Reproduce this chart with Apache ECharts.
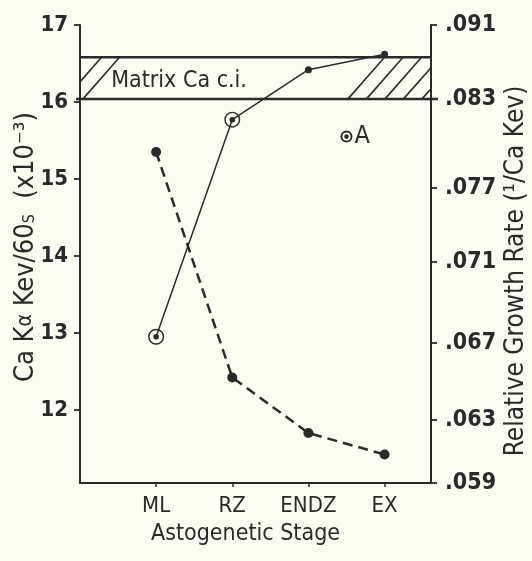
<!DOCTYPE html>
<html>
<head>
<meta charset="utf-8">
<script src="https://cdn.jsdelivr.net/npm/echarts@6/dist/echarts.min.js"></script>
<style>
  html, body { margin: 0; padding: 0; background: #fcfcf0; }
  #main { width: 532px; height: 561px; }
</style>
</head>
<body>
<div id="main"></div>
<script>
// astogenetic stages along the bottom
var stages = ['ML', 'RZ', 'ENDZ', 'EX'];
var stagePos = [1, 2, 3, 4];
// Ca K-alpha (Kev/60s x10^-3), solid line
var caCounts = [12.95, 15.77, 16.42, 16.62];
// relative growth rate, dashed line (read against the left scale)
var growthRate = [15.35, 12.42, 11.70, 11.42];
// lone point "A"
var pointA = [3.5, 15.55];
// matrix Ca confidence interval
var matrixBand = [16.04, 16.58];
var leftTicks = [12, 13, 14, 15, 16, 17];
// right hand scale is not linear, so keep where each label sits on the left scale
var rightTickLabels = ['.091', '.083', '.077', '.071', '.067', '.063', '.059'];
var rightTickAt = [17.0, 16.04, 14.88, 13.92, 12.87, 11.87, 11.05];

var ink = '#2a2a2a';
var fam = "'Liberation Sans Narrow', 'DejaVu Sans Condensed', 'Liberation Sans', sans-serif";

// ring with a dot inside (open circle marker)
var ringDot = 'path://M10,0 A10,10 0 1,1 10,20 A10,10 0 1,1 10,0 Z ' +
  'M10,1.8 A8.2,8.2 0 1,0 10,18.2 A8.2,8.2 0 1,0 10,1.8 Z ' +
  'M10,6.5 A3.5,3.5 0 1,1 10,13.5 A3.5,3.5 0 1,1 10,6.5 Z';
var ringDotHeavy = 'path://M10,0 A10,10 0 1,1 10,20 A10,10 0 1,1 10,0 Z ' +
  'M10,3.2 A6.8,6.8 0 1,0 10,16.8 A6.8,6.8 0 1,0 10,3.2 Z ' +
  'M10,6.2 A3.8,3.8 0 1,1 10,13.8 A3.8,3.8 0 1,1 10,6.2 Z';

var chart = echarts.init(document.getElementById('main'));

// hatched band with its label
function renderBand(params, api) {
  var cs = params.coordSys;
  var x0 = cs.x, x1 = cs.x + cs.width;
  var yTop = api.coord([0, matrixBand[1]])[1];
  var yBot = api.coord([0, matrixBand[0]])[1];
  var h = yBot - yTop;
  var slope = 0.88;
  var kids = [];
  kids.push({ type: 'line', shape: { x1: x0, y1: yTop, x2: x1, y2: yTop },
    style: { stroke: ink, lineWidth: 2.5 } });
  kids.push({ type: 'line', shape: { x1: x0 - 4, y1: yBot, x2: x1 + 7, y2: yBot },
    style: { stroke: ink, lineWidth: 2.5 } });

  var starts = [];
  var k;
  for (k = 0; k < 2; k++) starts.push(x0 - 15 + k * 18);
  var rx = api.coord([3.52, 0])[0];
  for (k = 0; k < 5; k++) starts.push(rx + k * 18.5);
  starts.forEach(function (xb) {
    var xa = xb, ya = yBot, xt = xb + h * slope, yt = yTop;
    if (xa < x0) { ya = yBot - (x0 - xb) / slope; xa = x0; }
    if (xt > x1) { yt = yBot - (x1 - xb) / slope; xt = x1; }
    kids.push({ type: 'line', shape: { x1: xa, y1: ya, x2: xt, y2: yt },
      style: { stroke: ink, lineWidth: 1.6 } });
  });

  kids.push({ type: 'text', x: api.coord([0.41, 0])[0], y: (yTop + yBot) / 2 + 3,
    style: { text: 'Matrix Ca c.i.', fill: ink, font: '23px ' + fam,
      align: 'left', verticalAlign: 'middle' } });
  return { type: 'group', children: kids };
}

var option = {
  backgroundColor: '#fcfcf0',
  animation: false,
  grid: { left: 80, right: 101, top: 25, bottom: 78, outerBoundsMode: 'none' },
  xAxis: {
    type: 'value',
    min: 0,
    max: 4.61,
    name: 'Astogenetic Stage',
    nameLocation: 'middle',
    nameGap: 40,
    nameTextStyle: { fontFamily: fam, fontSize: 23, color: ink, padding: [0, 20, 0, 0] },
    axisLine: { onZero: false, lineStyle: { color: ink, width: 2 } },
    axisTick: { customValues: stagePos, length: 4, lineStyle: { color: ink, width: 1.5 } },
    axisLabel: {
      customValues: stagePos, margin: 12, fontFamily: fam, fontSize: 22, color: ink,
      formatter: function (v) { return stages[stagePos.indexOf(v)]; }
    },
    splitLine: { show: false }
  },
  yAxis: [{
    type: 'value',
    min: 11.05,
    max: 17,
    position: 'left',
    name: 'Ca K{a|α} Kev/60{sub|S}  (x10⁻³)',
    nameLocation: 'middle',
    nameRotate: 90,
    nameGap: 41,
    nameMoveOverlap: false,
    nameTextStyle: {
      fontFamily: fam, fontSize: 27, color: ink, padding: [0, 0, 0, 14],
      rich: {
        a: { fontFamily: fam, fontSize: 21, color: ink },
        sub: { fontFamily: fam, fontSize: 16, color: ink, padding: [8, 0, 0, 0] }
      }
    },
    axisLine: { show: true, onZero: false, lineStyle: { color: ink, width: 2 } },
    axisTick: { show: true, customValues: leftTicks, length: 6, lineStyle: { color: ink, width: 1.8 } },
    axisLabel: { customValues: leftTicks, margin: 12, fontFamily: fam, fontSize: 22,
      fontWeight: 'bold', color: ink },
    splitLine: { show: false }
  }, {
    type: 'value',
    min: 11.05,
    max: 17,
    position: 'right',
    name: 'Relative Growth Rate (¹/Ca Kev)',
    nameLocation: 'middle',
    nameRotate: 90,
    nameGap: 72,
    nameMoveOverlap: false,
    nameTextStyle: { fontFamily: fam, fontSize: 26, color: ink, padding: [0, 34, 0, 0] },
    axisLine: { show: true, onZero: false, lineStyle: { color: ink, width: 2 } },
    axisTick: { show: true, customValues: rightTickAt, length: 6, lineStyle: { color: ink, width: 1.8 } },
    axisLabel: {
      customValues: rightTickAt, margin: 14, fontFamily: fam, fontSize: 23,
      fontWeight: 'bold', color: ink, padding: [0, 0, 9, 0],
      formatter: function (v) { return rightTickLabels[rightTickAt.indexOf(v)]; }
    },
    splitLine: { show: false }
  }],
  series: [{
    type: 'custom',
    renderItem: renderBand,
    data: [[0, 0]],
    clip: false,
    silent: true,
    z: 1
  }, {
    name: 'Ca',
    type: 'line',
    data: stagePos.map(function (x, i) {
      return {
        value: [x, caCounts[i]],
        symbol: i < 2 ? ringDot : 'circle',
        symbolSize: i < 2 ? 16 : 7
      };
    }),
    lineStyle: { color: ink, width: 1.5 },
    itemStyle: { color: ink },
    z: 3
  }, {
    name: 'Growth',
    type: 'line',
    data: stagePos.map(function (x, i) { return [x, growthRate[i]]; }),
    symbol: 'circle',
    symbolSize: 10,
    lineStyle: { color: ink, width: 2.5, type: [10, 6] },
    itemStyle: { color: ink },
    z: 3
  }, {
    type: 'scatter',
    data: [pointA],
    symbol: ringDotHeavy,
    symbolSize: 12,
    itemStyle: { color: ink, opacity: 1 },
    label: { show: true, position: 'right', distance: 2, formatter: 'A',
      fontFamily: fam, fontSize: 25, color: ink, opacity: 1 },
    z: 4
  }]
};

chart.setOption(option);
</script>
</body>
</html>
